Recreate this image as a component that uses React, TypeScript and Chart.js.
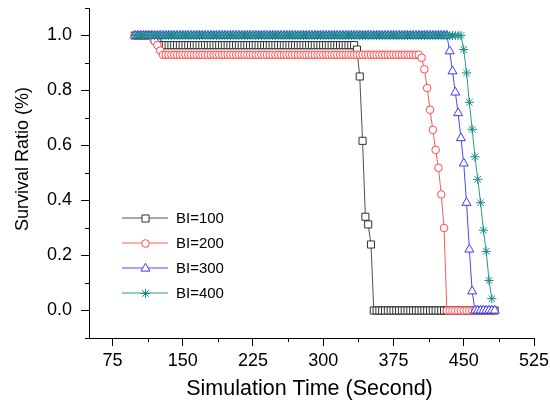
import React, { useEffect, useRef } from 'react';
import { Chart, registerables } from 'chart.js';
import { drawPoint } from 'chart.js/helpers';

Chart.register(...registerables);

const FONT = "'Liberation Sans', Arial, Helvetica, sans-serif";

// Simulation time (seconds)
const TIMES = [
  99, 102, 105, 108, 111, 114, 117, 120, 123, 126,
  129, 132, 135, 138, 141, 144, 147, 150, 153, 156,
  159, 162, 165, 168, 171, 174, 177, 180, 183, 186,
  189, 192, 195, 198, 201, 204, 207, 210, 213, 216,
  219, 222, 225, 228, 231, 234, 237, 240, 243, 246,
  249, 252, 255, 258, 261, 264, 267, 270, 273, 276,
  279, 282, 285, 288, 291, 294, 297, 300, 303, 306,
  309, 312, 315, 318, 321, 324, 327, 330, 333, 336,
  339, 342, 345, 348, 351, 354, 357, 360, 363, 366,
  369, 372, 375, 378, 381, 384, 387, 390, 393, 396,
  399, 402, 405, 408, 411, 414, 417, 420, 423, 426,
  429, 432, 435, 438, 441, 444, 447, 450, 453, 456,
  459, 462, 465, 468, 471, 474, 477, 480, 483,
];

const BI100 = [
  1, 1, 1, 1, 1, 1, 1, 0.985, 0.975, 0.965,
  0.965, 0.965, 0.965, 0.965, 0.965, 0.965, 0.965, 0.965, 0.965, 0.965,
  0.965, 0.965, 0.965, 0.965, 0.965, 0.965, 0.965, 0.965, 0.965, 0.965,
  0.965, 0.965, 0.965, 0.965, 0.965, 0.965, 0.965, 0.965, 0.965, 0.965,
  0.965, 0.965, 0.965, 0.965, 0.965, 0.965, 0.965, 0.965, 0.965, 0.965,
  0.965, 0.965, 0.965, 0.965, 0.965, 0.965, 0.965, 0.965, 0.965, 0.965,
  0.965, 0.965, 0.965, 0.965, 0.965, 0.965, 0.965, 0.965, 0.965, 0.965,
  0.965, 0.965, 0.965, 0.965, 0.965, 0.965, 0.965, 0.965, 0.965, 0.949,
  0.851, 0.617, 0.341, 0.313, 0.24, 0, 0, 0, 0, 0,
  0, 0, 0, 0, 0, 0, 0, 0, 0, 0,
  0, 0, 0, 0, 0, 0, 0, 0, 0, 0,
  0, 0, 0, 0, 0, 0, 0, 0, 0, 0,
  0, 0, 0, 0, 0, 0, 0, 0, 0,
];

const BI200 = [
  1, 1, 1, 1, 1, 1, 0.995, 0.98, 0.965, 0.945,
  0.93, 0.93, 0.93, 0.93, 0.93, 0.93, 0.93, 0.93, 0.93, 0.93,
  0.93, 0.93, 0.93, 0.93, 0.93, 0.93, 0.93, 0.93, 0.93, 0.93,
  0.93, 0.93, 0.93, 0.93, 0.93, 0.93, 0.93, 0.93, 0.93, 0.93,
  0.93, 0.93, 0.93, 0.93, 0.93, 0.93, 0.93, 0.93, 0.93, 0.93,
  0.93, 0.93, 0.93, 0.93, 0.93, 0.93, 0.93, 0.93, 0.93, 0.93,
  0.93, 0.93, 0.93, 0.93, 0.93, 0.93, 0.93, 0.93, 0.93, 0.93,
  0.93, 0.93, 0.93, 0.93, 0.93, 0.93, 0.93, 0.93, 0.93, 0.93,
  0.93, 0.93, 0.93, 0.93, 0.93, 0.93, 0.93, 0.93, 0.93, 0.93,
  0.93, 0.93, 0.93, 0.93, 0.93, 0.93, 0.93, 0.93, 0.93, 0.93,
  0.93, 0.93, 0.919, 0.877, 0.809, 0.73, 0.657, 0.584, 0.519, 0.422,
  0.3, 0, 0, 0, 0, 0, 0, 0, 0, 0,
  0, 0, 0, 0, 0, 0, 0, 0, 0,
];

const BI300 = [
  1, 1, 1, 1, 1, 1, 1, 1, 1, 1,
  1, 1, 1, 1, 1, 1, 1, 1, 1, 1,
  1, 1, 1, 1, 1, 1, 1, 1, 1, 1,
  1, 1, 1, 1, 1, 1, 1, 1, 1, 1,
  1, 1, 1, 1, 1, 1, 1, 1, 1, 1,
  1, 1, 1, 1, 1, 1, 1, 1, 1, 1,
  1, 1, 1, 1, 1, 1, 1, 1, 1, 1,
  1, 1, 1, 1, 1, 1, 1, 1, 1, 1,
  1, 1, 1, 1, 1, 1, 1, 1, 1, 1,
  1, 1, 1, 1, 1, 1, 1, 1, 1, 1,
  1, 1, 1, 1, 1, 1, 1, 1, 1, 1,
  1, 1, 0.943, 0.87, 0.793, 0.718, 0.627, 0.535, 0.392, 0.222,
  0.07, 0, 0, 0, 0, 0, 0, 0, 0,
];

const BI400 = [
  1, 1, 1, 1, 1, 1, 1, 1, 1, 1,
  1, 1, 1, 1, 1, 1, 1, 1, 1, 1,
  1, 1, 1, 1, 1, 1, 1, 1, 1, 1,
  1, 1, 1, 1, 1, 1, 1, 1, 1, 1,
  1, 1, 1, 1, 1, 1, 1, 1, 1, 1,
  1, 1, 1, 1, 1, 1, 1, 1, 1, 1,
  1, 1, 1, 1, 1, 1, 1, 1, 1, 1,
  1, 1, 1, 1, 1, 1, 1, 1, 1, 1,
  1, 1, 1, 1, 1, 1, 1, 1, 1, 1,
  1, 1, 1, 1, 1, 1, 1, 1, 1, 1,
  1, 1, 1, 1, 1, 1, 1, 1, 1, 1,
  1, 1, 1, 1, 1, 1, 1, 0.949, 0.864, 0.757,
  0.659, 0.559, 0.477, 0.392, 0.292, 0.215, 0.109, 0.043, null,
];

const SERIES_LABELS = ['BI=100', 'BI=200', 'BI=300', 'BI=400'];
const SERIES_VALUES = [BI100, BI200, BI300, BI400];

const X_MAJOR = [75, 150, 225, 300, 375, 450, 525];
const X_MINOR = [112.5, 187.5, 262.5, 337.5, 412.5, 487.5];
const Y_MAJOR = [0, 0.2, 0.4, 0.6, 0.8, 1.0];
const Y_MINOR = [-0.1, 0.1, 0.3, 0.5, 0.7, 0.9, 1.1];

const X_TITLE = 'Simulation Time (Second)';
const Y_TITLE = 'Survival Ratio (%)';

const STYLES = [
  { line: '#505050', marker: '#303030', pointStyle: 'rect', radius: 5, order: 4 },
  { line: '#ff5a5a', marker: '#ff4a4a', pointStyle: 'circle', radius: 3.8, order: 3 },
  { line: '#4848ff', marker: '#3a3aff', pointStyle: 'triangle', radius: 5.2, order: 2 },
  { line: '#2a9a90', marker: '#1a8c84', pointStyle: 'star', radius: 4.6, order: 1 },
];

const decorPlugin = {
  id: 'decor',
  afterDraw(chart: any) {
    const ctx = chart.ctx as CanvasRenderingContext2D;
    const xs = chart.scales.x;
    const ys = chart.scales.y;
    const left = chart.chartArea.left;
    const bottom = chart.chartArea.bottom;
    ctx.save();
    // minor ticks
    ctx.strokeStyle = '#000';
    ctx.lineWidth = 1;
    ctx.beginPath();
    X_MINOR.forEach((v) => {
      const px = Math.round(xs.getPixelForValue(v)) + 0.5;
      ctx.moveTo(px, bottom);
      ctx.lineTo(px, bottom + 4);
    });
    Y_MINOR.forEach((v) => {
      const py = Math.round(ys.getPixelForValue(v)) + 0.5;
      ctx.moveTo(left - 4, py);
      ctx.lineTo(left, py);
    });
    ctx.stroke();

    // axis titles
    ctx.fillStyle = '#000';
    ctx.textAlign = 'center';
    ctx.textBaseline = 'alphabetic';
    ctx.font = `21.5px ${FONT}`;
    ctx.fillText(X_TITLE, (chart.chartArea.left + chart.chartArea.right) / 2 - 2, 395);
    ctx.save();
    ctx.translate(28, 159);
    ctx.rotate(-Math.PI / 2);
    ctx.font = `18px ${FONT}`;
    ctx.fillText(Y_TITLE, 0, 0);
    ctx.restore();

    // legend
    chart.data.datasets.forEach((ds: any, i: number) => {
      const y = 218 + 25 * i;
      ctx.strokeStyle = ds.borderColor;
      ctx.lineWidth = 1;
      ctx.beginPath();
      ctx.moveTo(122, y);
      ctx.lineTo(168, y);
      ctx.stroke();
      ctx.strokeStyle = ds.pointBorderColor;
      ctx.fillStyle = '#fff';
      ctx.lineWidth = 1;
      drawPoint(ctx, { pointStyle: ds.pointStyle, radius: ds.pointRadius, rotation: 0, borderWidth: 1 } as any, 145.5, y + 0.5);
      ctx.fillStyle = '#000';
      ctx.textAlign = 'left';
      ctx.textBaseline = 'middle';
      ctx.font = `15px ${FONT}`;
      ctx.fillText(ds.label, 176, y + 1);
    });
    ctx.restore();
  },
};

export default function App() {
  const ref = useRef<HTMLCanvasElement | null>(null);

  useEffect(() => {
    if (!ref.current) return;
    const datasets = SERIES_LABELS.map((label, i) => {
      const st = STYLES[i];
      return {
        label,
        data: TIMES.map((t, k) => ({ x: t, y: SERIES_VALUES[i][k] })),
        borderColor: st.line,
        borderWidth: 1,
        pointStyle: st.pointStyle,
        pointRadius: st.radius,
        pointHoverRadius: st.radius,
        pointBorderColor: st.marker,
        pointBackgroundColor: '#ffffff',
        pointBorderWidth: 1,
        tension: 0,
        fill: false,
        order: st.order,
      };
    });

    const chart = new Chart(ref.current, {
      type: 'line',
      data: { datasets } as any,
      options: {
        responsive: false,
        animation: false,
        devicePixelRatio: 1,
        layout: { padding: { left: 0, right: 16, top: 8, bottom: 0 } },
        plugins: { legend: { display: false }, tooltip: { enabled: false } },
        scales: {
          x: {
            type: 'linear',
            min: 50,
            max: 525,
            afterBuildTicks: (s: any) => {
              s.ticks = X_MAJOR.map((v) => ({ value: v }));
            },
            afterFit: (s: any) => {
              s.height = 65;
              s.paddingLeft = 0;
              s.paddingRight = 0;
            },
            ticks: {
              autoSkip: false,
              maxRotation: 0,
              padding: 4,
              color: '#000',
              font: { family: FONT, size: 18 },
              callback: (v: any) => String(v),
            },
            grid: { drawOnChartArea: false, drawTicks: true, tickLength: 8, color: '#000' },
            border: { display: true, color: '#000', width: 1 },
          },
          y: {
            type: 'linear',
            min: -0.1,
            max: 1.1,
            afterBuildTicks: (s: any) => {
              s.ticks = Y_MAJOR.map((v) => ({ value: v }));
            },
            afterFit: (s: any) => {
              s.width = 89;
              s.paddingTop = 0;
              s.paddingBottom = 0;
            },
            ticks: {
              autoSkip: false,
              padding: 9,
              color: '#000',
              font: { family: FONT, size: 18 },
              callback: (v: any) => Number(v).toFixed(1),
            },
            grid: { drawOnChartArea: false, drawTicks: true, tickLength: 8, color: '#000' },
            border: { display: true, color: '#000', width: 1 },
          },
        },
      } as any,
      plugins: [decorPlugin],
    });
    return () => chart.destroy();
  }, []);

  return (
    <div style={{ position: 'fixed', left: 0, top: 0, width: 550, height: 403, background: '#fff' }}>
      <canvas ref={ref} width={550} height={403} style={{ display: 'block', width: 550, height: 403 }} />
    </div>
  );
}
